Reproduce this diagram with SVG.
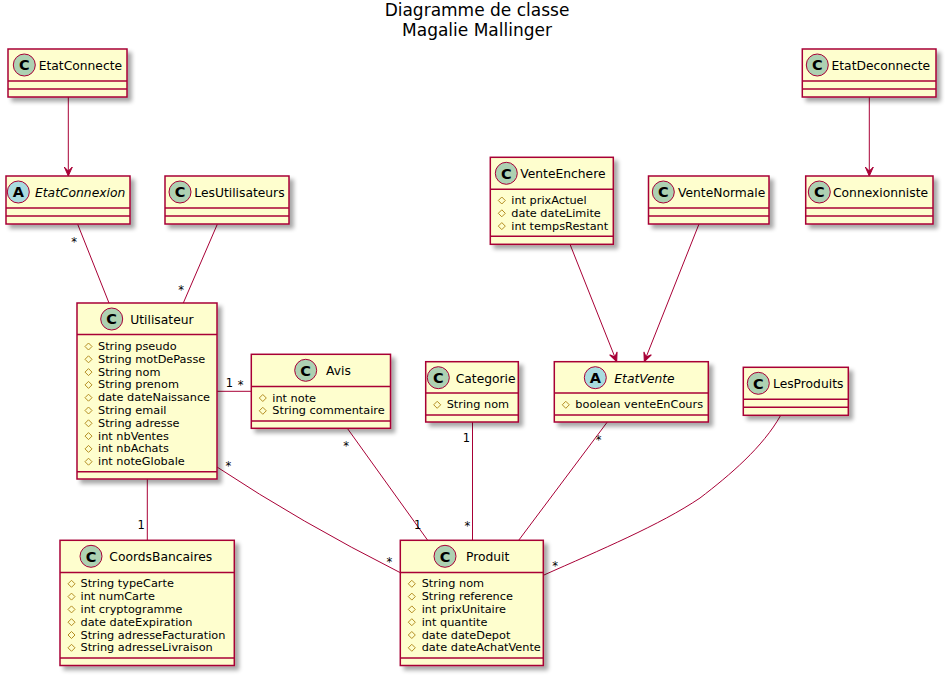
<svg xmlns="http://www.w3.org/2000/svg" width="947" height="676" viewBox="0 0 947 676">
<style>
.box{fill:#FEFECE;stroke:#A80036;stroke-width:1.5;filter:url(#sh)}
.sep{stroke:#A80036;stroke-width:1.5}
.ci{fill:#ADD1B2;stroke:#A80036;stroke-width:1}
.ca{fill:#A9DCDF;stroke:#A80036;stroke-width:1}
.cl{font-family:"DejaVu Sans",sans-serif;font-size:14.5px;font-weight:bold;fill:#000;text-anchor:middle}
.nm{font-family:"DejaVu Sans",sans-serif;font-size:12.3px;fill:#000}
.it{font-style:italic}
.at{font-family:"DejaVu Sans",sans-serif;font-size:11.3px;fill:#000}
.dm{fill:none;stroke:#B38D22;stroke-width:1}
.ln{fill:none;stroke:#A80036;stroke-width:1}
.lb{font-family:"DejaVu Sans",sans-serif;font-size:11.5px;fill:#000;text-anchor:middle}
.tt{font-family:"DejaVu Sans",sans-serif;font-size:17px;fill:#000;text-anchor:middle}
</style>
<defs>
<filter id="sh" x="-10%" y="-10%" width="130%" height="130%">
<feGaussianBlur in="SourceAlpha" stdDeviation="2"/>
<feOffset dx="4" dy="4" result="b"/>
<feComponentTransfer><feFuncA type="linear" slope="0.35"/></feComponentTransfer>
<feMerge><feMergeNode/><feMergeNode in="SourceGraphic"/></feMerge>
</filter>
<marker id="arr" markerUnits="userSpaceOnUse" markerWidth="12" markerHeight="10" viewBox="-10 -5 12 10" refX="0" refY="0" orient="auto">
<path d="M0,0 L-9,-4 L-5,0 L-9,4 Z" fill="#A80036" stroke="#A80036" stroke-width="1"/>
</marker>
</defs>
<rect width="947" height="676" fill="#FFFFFF"/>
<g id="title">
<text class="tt" x="477" y="16">Diagramme de classe</text>
<text class="tt" x="477" y="36">Magalie Mallinger</text>
</g>

<g id="connectors">
<line class="ln" x1="68.3" y1="97" x2="68.3" y2="176" marker-end="url(#arr)"/>
<line class="ln" x1="869.3" y1="97" x2="869.3" y2="176" marker-end="url(#arr)"/>
<line class="ln" x1="570" y1="244.3" x2="616.7" y2="361.7" marker-end="url(#arr)"/>
<line class="ln" x1="699" y1="224" x2="644.3" y2="361.7" marker-end="url(#arr)"/>
<line class="ln" x1="77.7" y1="224.3" x2="109" y2="303"/>
<line class="ln" x1="217.3" y1="224.3" x2="183.3" y2="303"/>
<line class="ln" x1="217" y1="391.3" x2="251.3" y2="391.3"/>
<line class="ln" x1="147.3" y1="479" x2="147.3" y2="540.3"/>
<path class="ln" d="M217,467 Q300,522 400.3,572.7"/>
<line class="ln" x1="347.3" y1="428.3" x2="427.7" y2="540.3"/>
<line class="ln" x1="472.5" y1="422" x2="472.5" y2="540.3"/>
<line class="ln" x1="607.3" y1="422" x2="518.7" y2="540.3"/>
<path class="ln" d="M780.7,415.3 C763,447 730,475 700,498 C660,525 600,550 543.3,575.3"/>
<text class="lb" x="74" y="246">*</text>
<text class="lb" x="181" y="294">*</text>
<text class="lb" x="229.3" y="386.6">1</text>
<text class="lb" x="240.5" y="389.3">*</text>
<text class="lb" x="141.2" y="529.3">1</text>
<text class="lb" x="228.3" y="470">*</text>
<text class="lb" x="389.3" y="566">*</text>
<text class="lb" x="346" y="450">*</text>
<text class="lb" x="417.7" y="528.7">1</text>
<text class="lb" x="466.3" y="441.7">1</text>
<text class="lb" x="467.3" y="529.5">*</text>
<text class="lb" x="598.7" y="443.5">*</text>
<text class="lb" x="555" y="570">*</text>
</g>

<g id="EtatConnecte">
<rect class="box" x="8" y="49" width="119" height="48"/>
<line class="sep" x1="8" y1="81" x2="127" y2="81"/>
<line class="sep" x1="8" y1="89" x2="127" y2="89"/>
<circle class="ci" cx="24.3" cy="65" r="11"/>
<text class="cl" x="24.3" y="70.3">C</text>
<text class="nm" x="38.7" y="70">EtatConnecte</text>
</g>

<g id="EtatConnexion">
<rect class="box" x="6" y="176" width="124" height="48"/>
<line class="sep" x1="6" y1="208" x2="130" y2="208"/>
<line class="sep" x1="6" y1="216" x2="130" y2="216"/>
<circle class="ca" cx="18.3" cy="192" r="11"/>
<text class="cl" x="18.3" y="197.3">A</text>
<text class="nm it" x="35" y="197">EtatConnexion</text>
</g>

<g id="LesUtilisateurs">
<rect class="box" x="165" y="176" width="124" height="48"/>
<line class="sep" x1="165" y1="208" x2="289" y2="208"/>
<line class="sep" x1="165" y1="216" x2="289" y2="216"/>
<circle class="ci" cx="180" cy="192" r="11"/>
<text class="cl" x="180" y="197.3">C</text>
<text class="nm" x="194.3" y="197">LesUtilisateurs</text>
</g>

<g id="Utilisateur">
<rect class="box" x="77" y="303" width="140" height="176"/>
<line class="sep" x1="77" y1="334.5" x2="217" y2="334.5"/>
<line class="sep" x1="77" y1="471.7" x2="217" y2="471.7"/>
<circle class="ci" cx="111.7" cy="319" r="11"/>
<text class="cl" x="111.7" y="324.3">C</text>
<text class="nm" x="130.3" y="324">Utilisateur</text>
<g class="dm">
<polygon points="88.5,343 92,346.5 88.5,350 85,346.5"/>
<polygon points="88.5,355.8 92,359.3 88.5,362.8 85,359.3"/>
<polygon points="88.5,368.6 92,372.1 88.5,375.6 85,372.1"/>
<polygon points="88.5,381.4 92,384.9 88.5,388.4 85,384.9"/>
<polygon points="88.5,394.2 92,397.7 88.5,401.2 85,397.7"/>
<polygon points="88.5,407 92,410.5 88.5,414 85,410.5"/>
<polygon points="88.5,419.8 92,423.3 88.5,426.8 85,423.3"/>
<polygon points="88.5,432.6 92,436.1 88.5,439.6 85,436.1"/>
<polygon points="88.5,445.4 92,448.9 88.5,452.4 85,448.9"/>
<polygon points="88.5,458.2 92,461.7 88.5,465.2 85,461.7"/>
</g>
<text class="at" x="98" y="350">String pseudo</text>
<text class="at" x="98" y="362.8">String motDePasse</text>
<text class="at" x="98" y="375.6">String nom</text>
<text class="at" x="98" y="388.4">String prenom</text>
<text class="at" x="98" y="401.2">date dateNaissance</text>
<text class="at" x="98" y="414">String email</text>
<text class="at" x="98" y="426.8">String adresse</text>
<text class="at" x="98" y="439.6">int nbVentes</text>
<text class="at" x="98" y="452.4">int nbAchats</text>
<text class="at" x="98" y="465.2">int noteGlobale</text>
</g>

<g id="Avis">
<rect class="box" x="251.3" y="354.3" width="139.2" height="74"/>
<line class="sep" x1="251.3" y1="386.6" x2="390.5" y2="386.6"/>
<line class="sep" x1="251.3" y1="421" x2="390.5" y2="421"/>
<circle class="ci" cx="305.7" cy="370.3" r="11"/>
<text class="cl" x="305.7" y="375.6">C</text>
<text class="nm" x="326" y="375.3">Avis</text>
<g class="dm">
<polygon points="262.8,394.5 266.3,398 262.8,401.5 259.3,398"/>
<polygon points="262.8,407.3 266.3,410.8 262.8,414.3 259.3,410.8"/>
</g>
<text class="at" x="272.3" y="401.5">int note</text>
<text class="at" x="272.3" y="414.3">String commentaire</text>
</g>

<g id="CoordsBancaires">
<rect class="box" x="60" y="540.3" width="174.3" height="125.2"/>
<line class="sep" x1="60" y1="572.5" x2="234.3" y2="572.5"/>
<line class="sep" x1="60" y1="658" x2="234.3" y2="658"/>
<circle class="ci" cx="91" cy="556.3" r="11"/>
<text class="cl" x="91" y="561.6">C</text>
<text class="nm" x="109.3" y="561.3">CoordsBancaires</text>
<g class="dm">
<polygon points="71.5,580.3 75,583.8 71.5,587.3 68,583.8"/>
<polygon points="71.5,593.1 75,596.6 71.5,600.1 68,596.6"/>
<polygon points="71.5,605.9 75,609.4 71.5,612.9 68,609.4"/>
<polygon points="71.5,618.7 75,622.2 71.5,625.7 68,622.2"/>
<polygon points="71.5,631.5 75,635 71.5,638.5 68,635"/>
<polygon points="71.5,644.3 75,647.8 71.5,651.3 68,647.8"/>
</g>
<text class="at" x="80.5" y="587.3">String typeCarte</text>
<text class="at" x="80.5" y="600.1">int numCarte</text>
<text class="at" x="80.5" y="612.9">int cryptogramme</text>
<text class="at" x="80.5" y="625.7">date dateExpiration</text>
<text class="at" x="80.5" y="638.5">String adresseFacturation</text>
<text class="at" x="80.5" y="651.3">String adresseLivraison</text>
</g>

<g id="Produit">
<rect class="box" x="400.3" y="540.3" width="143" height="125.2"/>
<line class="sep" x1="400.3" y1="572.5" x2="543.3" y2="572.5"/>
<line class="sep" x1="400.3" y1="658" x2="543.3" y2="658"/>
<circle class="ci" cx="445" cy="556.3" r="11"/>
<text class="cl" x="445" y="561.6">C</text>
<text class="nm" x="466" y="561.3">Produit</text>
<g class="dm">
<polygon points="411.8,580.3 415.3,583.8 411.8,587.3 408.3,583.8"/>
<polygon points="411.8,593.1 415.3,596.6 411.8,600.1 408.3,596.6"/>
<polygon points="411.8,605.9 415.3,609.4 411.8,612.9 408.3,609.4"/>
<polygon points="411.8,618.7 415.3,622.2 411.8,625.7 408.3,622.2"/>
<polygon points="411.8,631.5 415.3,635 411.8,638.5 408.3,635"/>
<polygon points="411.8,644.3 415.3,647.8 411.8,651.3 408.3,647.8"/>
</g>
<text class="at" x="421.7" y="587.3">String nom</text>
<text class="at" x="421.7" y="600.1">String reference</text>
<text class="at" x="421.7" y="612.9">int prixUnitaire</text>
<text class="at" x="421.7" y="625.7">int quantite</text>
<text class="at" x="421.7" y="638.5">date dateDepot</text>
<text class="at" x="421.7" y="651.3">date dateAchatVente</text>
</g>

<g id="Categorie">
<rect class="box" x="425.7" y="361.7" width="92.6" height="60.3"/>
<line class="sep" x1="425.7" y1="393" x2="518.3" y2="393"/>
<line class="sep" x1="425.7" y1="415" x2="518.3" y2="415"/>
<circle class="ci" cx="438.3" cy="377.7" r="11"/>
<text class="cl" x="438.3" y="383">C</text>
<text class="nm" x="455.7" y="382.7">Categorie</text>
<polygon class="dm" points="437.2,401.3 440.7,404.8 437.2,408.3 433.7,404.8"/>
<text class="at" x="446.7" y="408.3">String nom</text>
</g>

<g id="EtatVente">
<rect class="box" x="554.3" y="361.7" width="154" height="60.3"/>
<line class="sep" x1="554.3" y1="393" x2="708.3" y2="393"/>
<line class="sep" x1="554.3" y1="415" x2="708.3" y2="415"/>
<circle class="ca" cx="595.3" cy="377.7" r="11"/>
<text class="cl" x="595.3" y="383">A</text>
<text class="nm it" x="614.3" y="382.7">EtatVente</text>
<polygon class="dm" points="565.8,401.3 569.3,404.8 565.8,408.3 562.3,404.8"/>
<text class="at" x="575.3" y="408.3">boolean venteEnCours</text>
</g>

<g id="VenteEnchere">
<rect class="box" x="490.3" y="157.3" width="123" height="87"/>
<line class="sep" x1="490.3" y1="189.3" x2="613.3" y2="189.3"/>
<line class="sep" x1="490.3" y1="236.3" x2="613.3" y2="236.3"/>
<circle class="ci" cx="506.3" cy="173.3" r="11"/>
<text class="cl" x="506.3" y="178.6">C</text>
<text class="nm" x="520.3" y="178.3">VenteEnchere</text>
<g class="dm">
<polygon points="501.8,197 505.3,200.5 501.8,204 498.3,200.5"/>
<polygon points="501.8,209.8 505.3,213.3 501.8,216.8 498.3,213.3"/>
<polygon points="501.8,222.6 505.3,226.1 501.8,229.6 498.3,226.1"/>
</g>
<text class="at" x="511.3" y="204">int prixActuel</text>
<text class="at" x="511.3" y="216.8">date dateLimite</text>
<text class="at" x="511.3" y="229.6">int tempsRestant</text>
</g>

<g id="VenteNormale">
<rect class="box" x="648.5" y="176" width="120.5" height="48"/>
<line class="sep" x1="648.5" y1="208" x2="769" y2="208"/>
<line class="sep" x1="648.5" y1="216" x2="769" y2="216"/>
<circle class="ci" cx="663.3" cy="192" r="11"/>
<text class="cl" x="663.3" y="197.3">C</text>
<text class="nm" x="678" y="197">VenteNormale</text>
</g>

<g id="EtatDeconnecte">
<rect class="box" x="802.3" y="49" width="133.7" height="48"/>
<line class="sep" x1="802.3" y1="81" x2="936" y2="81"/>
<line class="sep" x1="802.3" y1="89" x2="936" y2="89"/>
<circle class="ci" cx="817.3" cy="65" r="11"/>
<text class="cl" x="817.3" y="70.3">C</text>
<text class="nm" x="831.5" y="70">EtatDeconnecte</text>
</g>

<g id="Connexionniste">
<rect class="box" x="805.7" y="176" width="127.3" height="48"/>
<line class="sep" x1="805.7" y1="208" x2="933" y2="208"/>
<line class="sep" x1="805.7" y1="216" x2="933" y2="216"/>
<circle class="ci" cx="819.3" cy="192" r="11"/>
<text class="cl" x="819.3" y="197.3">C</text>
<text class="nm" x="833" y="197">Connexionniste</text>
</g>

<g id="LesProduits">
<rect class="box" x="743.3" y="367.3" width="105" height="48"/>
<line class="sep" x1="743.3" y1="399.3" x2="848.3" y2="399.3"/>
<line class="sep" x1="743.3" y1="407.3" x2="848.3" y2="407.3"/>
<circle class="ci" cx="758.3" cy="383.3" r="11"/>
<text class="cl" x="758.3" y="388.6">C</text>
<text class="nm" x="773" y="388.3">LesProduits</text>
</g>
</svg>
